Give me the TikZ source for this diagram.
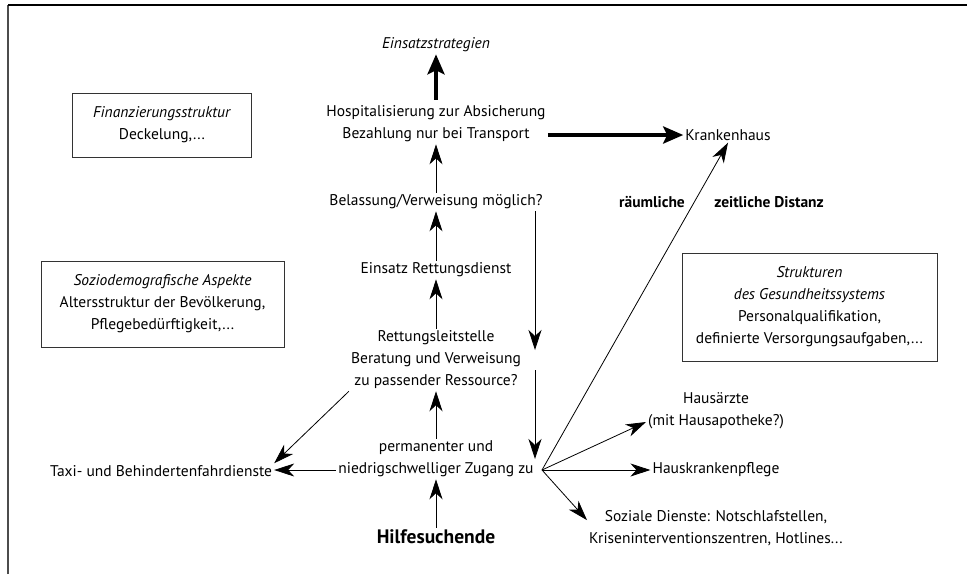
\documentclass[tikz,border=0pt]{standalone}
\usepackage{fontspec}
\setmainfont{PT Sans}
\usetikzlibrary{positioning, arrows.meta}

\begin{document}
\begin{tikzpicture}[x=1pt, y=-1pt,
  txt/.style={align=center, inner sep=2pt, font=\fontsize{15.5pt}{22pt}\selectfont},
  fett/.style={txt, font=\fontsize{15.5pt}{22pt}\selectfont\bfseries},
  kasten/.style={txt, draw=black!80, line width=0.8pt},
  pfeil/.style={-{Stealth[length=20pt, width=13pt, inset=6pt]}, line width=0.8pt},
  dickpfeil/.style={-{Stealth[length=20pt, width=17pt, inset=4pt]}, line width=4.5pt}]
  \useasboundingbox (0,0) rectangle (967,574);
  \draw[line width=1.2pt, black!70] (8,574) -- (8,5);
  \draw[line width=1.2pt] (8,5) -- (967,5);

  % mittlere Kette
  \node[txt] (strat) at (436,45) {\textit{Einsatzstrategien}};
  \node[txt] (hosp) at (436,124) {Hospitalisierung zur Absicherung\\Bezahlung nur bei Transport};
  \node[txt] (kh) at (728,135) {Krankenhaus};
  \node[txt] (bel) at (436,202) {Belassung/Verweisung möglich?};
  \node[txt] (ein) at (436,270) {Einsatz Rettungsdienst};
  \node[txt] (leit) at (436,360) {Rettungsleitstelle\\Beratung und Verweisung\\zu passender Ressource?};
  \node[txt] (zug) at (436,459) {permanenter und\\niedrigschwelliger Zugang zu};
  \node[txt, font=\fontsize{19.5pt}{22pt}\selectfont\bfseries] (hilfe) at (436,537) {Hilfesuchende};

  % links und rechts
  \node[txt] (taxi) at (161,471) {Taxi- und Behindertenfahrdienste};
  \node[txt] (ha) at (716,411) {Hausärzte\\(mit Hausapotheke?)};
  \node[txt] (hk) at (716,470) {Hauskrankenpflege};
  \node[txt] (soz) at (716,528) {Soziale Dienste: Notschlafstellen,\\Kriseninterventionszentren, Hotlines...};
  \node[fett] (raum) at (652,202) {räumliche};
  \node[fett] (zeit) at (769,202) {zeitliche Distanz};

  % Kaesten
  \node[kasten, minimum width=179pt, minimum height=64pt] (fin) at (162,125) {\textit{Finanzierungsstruktur}\\Deckelung,...};
  \node[kasten, minimum width=243pt, minimum height=86pt] (sozio) at (162.5,304) {\textit{Soziodemografische Aspekte}\\Altersstruktur der Bevölkerung,\\Pflegebedürftigkeit,...};
  \node[kasten, minimum width=255pt, minimum height=108pt] (struk) at (809.5,307) {\textit{Strukturen}\\\textit{des Gesundheitssystems}\\Personalqualifikation,\\definierte Versorgungsaufgaben,...};

  \coordinate (fan) at (542,470);
  \coordinate (rechts) at (535,470);

  \draw[dickpfeil, shorten <=4pt] (hosp.north) -- (strat.south);
  \draw[dickpfeil] (kh -| hosp.east) -- (kh.west);
  \draw[pfeil] (bel) -- (hosp);
  \draw[pfeil] (ein) -- (bel);
  \draw[pfeil] (leit) -- (ein);
  \draw[pfeil] (zug) -- (leit);
  \draw[pfeil] (hilfe) -- (zug);
  \draw[pfeil, shorten >=10pt] (bel.south -| rechts) -- (leit.center -| rechts);
  \draw[pfeil, shorten <=10pt] (leit.center -| rechts) -- (zug.center -| rechts);
  \draw[pfeil] (leit.south west) -- (taxi.north east);
  \draw[pfeil] (fan -| zug.west) -- (fan -| taxi.east);
  \draw[pfeil] (fan) -- (kh.south);
  \draw[pfeil] (fan) -- ([yshift=-11pt]ha.west);
  \draw[pfeil] (fan) -- (hk.west);
  \draw[pfeil] (fan) -- ([yshift=-12pt]soz.north west);
\end{tikzpicture}
\end{document}
